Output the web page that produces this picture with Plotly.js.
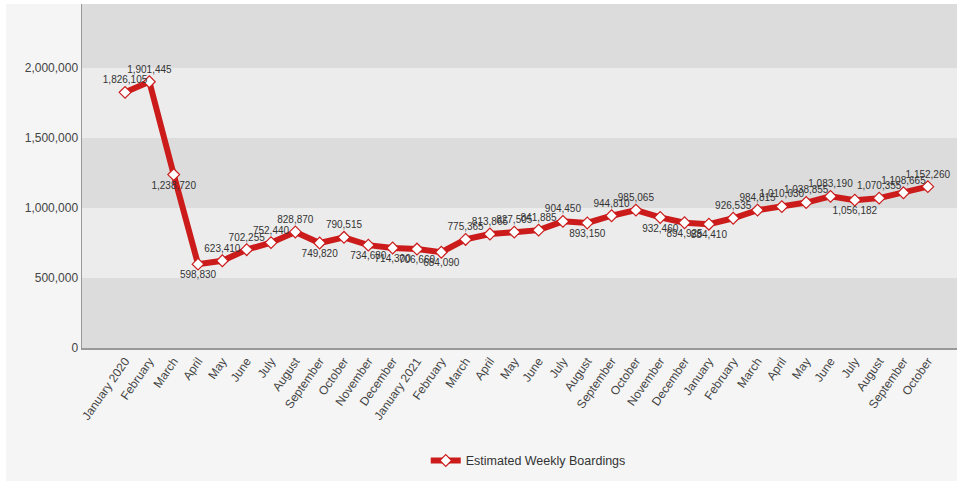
<!DOCTYPE html>
<html>
<head>
<meta charset="utf-8">
<script src="https://cdn.plot.ly/plotly-3.0.1.min.js"></script>
<style>
  html, body { margin:0; padding:0; background:#ffffff; width:957px; height:481px; overflow:hidden; }
  #chart { position:absolute; left:6px; top:4px; width:951px; height:477px; }
</style>
</head>
<body>
<div id="chart"></div>
<script>
const months = ["January 2020","February","March","April","May","June","July","August","September","October","November","December",
  "January 2021","February","March","April","May","June","July","August","September","October","November","December",
  "January","February","March","April","May","June","July","August","September","October"];
const boardings = [1826105,1901445,1238720,598830,623410,702255,752440,828870,749820,790515,734680,714300,
  706660,684090,775365,813865,827505,841885,904450,893150,944810,985065,932460,894925,
  884410,926535,984815,1010030,1038855,1083190,1056182,1070355,1108665,1152260];
const labelPos = ["top center","top center","bottom center","bottom center","top center","top center","top center","top center","bottom center","top center","bottom center","bottom center",
  "bottom center","bottom center","top center","top center","top center","top center","top center","bottom center","top center","top center","bottom center","bottom center",
  "bottom center","top center","top center","top center","top center","top center","bottom center","top center","top center","top center"];
const bandEdges = [0,500000,1000000,1500000,2000000,2500000];
const bandColors = ["#dcdcdc","#ececec","#dcdcdc","#ececec","#dcdcdc"];

const idx = months.map((m,i)=>i);
const shapes = bandColors.map((c,i)=>({type:"rect",xref:"paper",yref:"y",x0:0,x1:1,y0:bandEdges[i],y1:bandEdges[i+1],fillcolor:c,line:{width:0},layer:"below"}));

const trace = {
  x: idx, y: boardings, type:"scatter", mode:"lines+markers+text",
  name:"Estimated Weekly Boardings",
  line:{color:"#cc1b1b", width:6},
  marker:{symbol:"diamond", size:9, color:"#ffffff", line:{color:"#cc1b1b", width:1.2}},
  text: boardings.map(v=>v.toLocaleString("en-US")),
  textposition: labelPos,
  textfont:{family:"Liberation Sans, Arial, sans-serif", size:10, color:"#333333"},
  cliponaxis:false
};

const layout = {
  width:951, height:477,
  margin:{l:76, r:0, t:0, b:133},
  paper_bgcolor:"#f5f5f5", plot_bgcolor:"#dcdcdc",
  font:{family:"Liberation Sans, Arial, sans-serif", color:"#444"},
  shapes: shapes,
  showlegend:true,
  legend:{orientation:"h", x:0.51, xanchor:"center", y:-0.328, yanchor:"middle",
    font:{size:12.5, color:"#333"}, bgcolor:"rgba(0,0,0,0)"},
  xaxis:{range:[-1.77,34.2], tickmode:"array", tickvals:idx, ticktext:months, tickangle:-55,
    tickfont:{size:12, color:"#444"}, showgrid:false, zeroline:false, showline:true, linecolor:"#999", linewidth:1.5,
    ticks:"", fixedrange:true},
  yaxis:{range:[0,2457000], tickvals:[0,500000,1000000,1500000,2000000], tickformat:",",
    tickfont:{size:12, color:"#444"}, showgrid:false, zeroline:false, showline:true, linecolor:"#999", linewidth:1.5,
    ticks:"", ticklen:4}
};
Plotly.newPlot("chart",[trace],layout,{displayModeBar:false, staticPlot:true});
</script>
</body>
</html>
